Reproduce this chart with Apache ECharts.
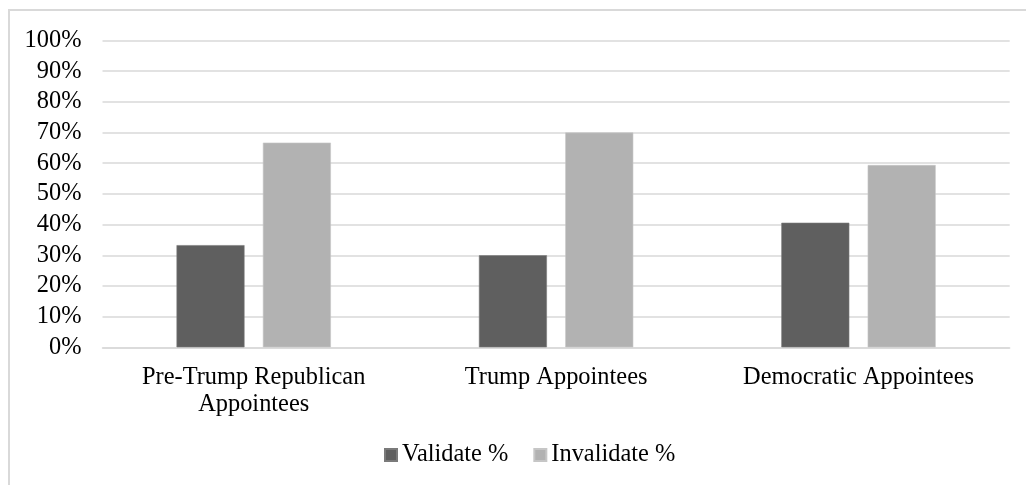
<!DOCTYPE html>
<html>
<head>
<meta charset="utf-8">
<script src="https://cdn.jsdelivr.net/npm/echarts@6/dist/echarts.min.js"></script>
<style>
html,body{margin:0;padding:0;background:#fff;}
#chart{width:1026px;height:485px;}
</style>
</head>
<body>
<div id="chart"></div>
<script>
const categories = ['Pre-Trump Republican\nAppointees', 'Trump Appointees', 'Democratic Appointees'];
const validate = [33.3, 30.0, 40.6];
const invalidate = [66.7, 70.0, 59.4];
const seriesNames = ['Validate %', 'Invalidate %'];

const FONT = '"Liberation Serif", "Times New Roman", serif';
const FS = 24.4;
const chart = echarts.init(document.getElementById('chart'), null, {renderer: 'canvas'});
chart.setOption({
  animation: false,
  backgroundColor: '#ffffff',
  textStyle: {fontFamily: FONT, color: '#000'},
  graphic: [{
    type: 'rect',
    shape: {x: 9, y: 10, width: 1100, height: 600},
    style: {fill: 'none', stroke: '#d9d9d9', lineWidth: 2},
    silent: true,
    z: -1
  }],
  grid: {left: 102.5, right: 16.3, top: 40.5, bottom: 137.7, containLabel: false},
  legend: {
    left: 384,
    top: 443,
    padding: 0,
    itemWidth: 12,
    itemHeight: 12,
    itemGap: 25,
    icon: 'rect',
    textStyle: {fontFamily: FONT, fontSize: FS, color: '#000'},
    data: seriesNames
  },
  xAxis: {
    type: 'category',
    data: categories,
    axisLine: {show: true, lineStyle: {color: '#d9d9d9', width: 1.5}},
    axisTick: {show: false},
    axisLabel: {fontFamily: FONT, fontSize: FS, color: '#000', margin: 17, lineHeight: 27, interval: 0}
  },
  yAxis: {
    type: 'value',
    min: 0,
    max: 100,
    interval: 10,
    axisLine: {show: false},
    axisTick: {show: false},
    splitLine: {lineStyle: {color: '#d9d9d9', width: 1.5}},
    axisLabel: {fontFamily: FONT, fontSize: FS, color: '#000', margin: 21, formatter: '{value}%'}
  },
  series: [
    {name: seriesNames[0], type: 'bar', data: validate, barWidth: 68, barGap: '27%',
     itemStyle: {color: '#5f5f5f', borderColor: '#7a7a7a', borderWidth: 0.6}},
    {name: seriesNames[1], type: 'bar', data: invalidate, barWidth: 68,
     itemStyle: {color: '#b2b2b2', borderColor: '#c6c6c6', borderWidth: 0.6}}
  ]
});
</script>
</body>
</html>
